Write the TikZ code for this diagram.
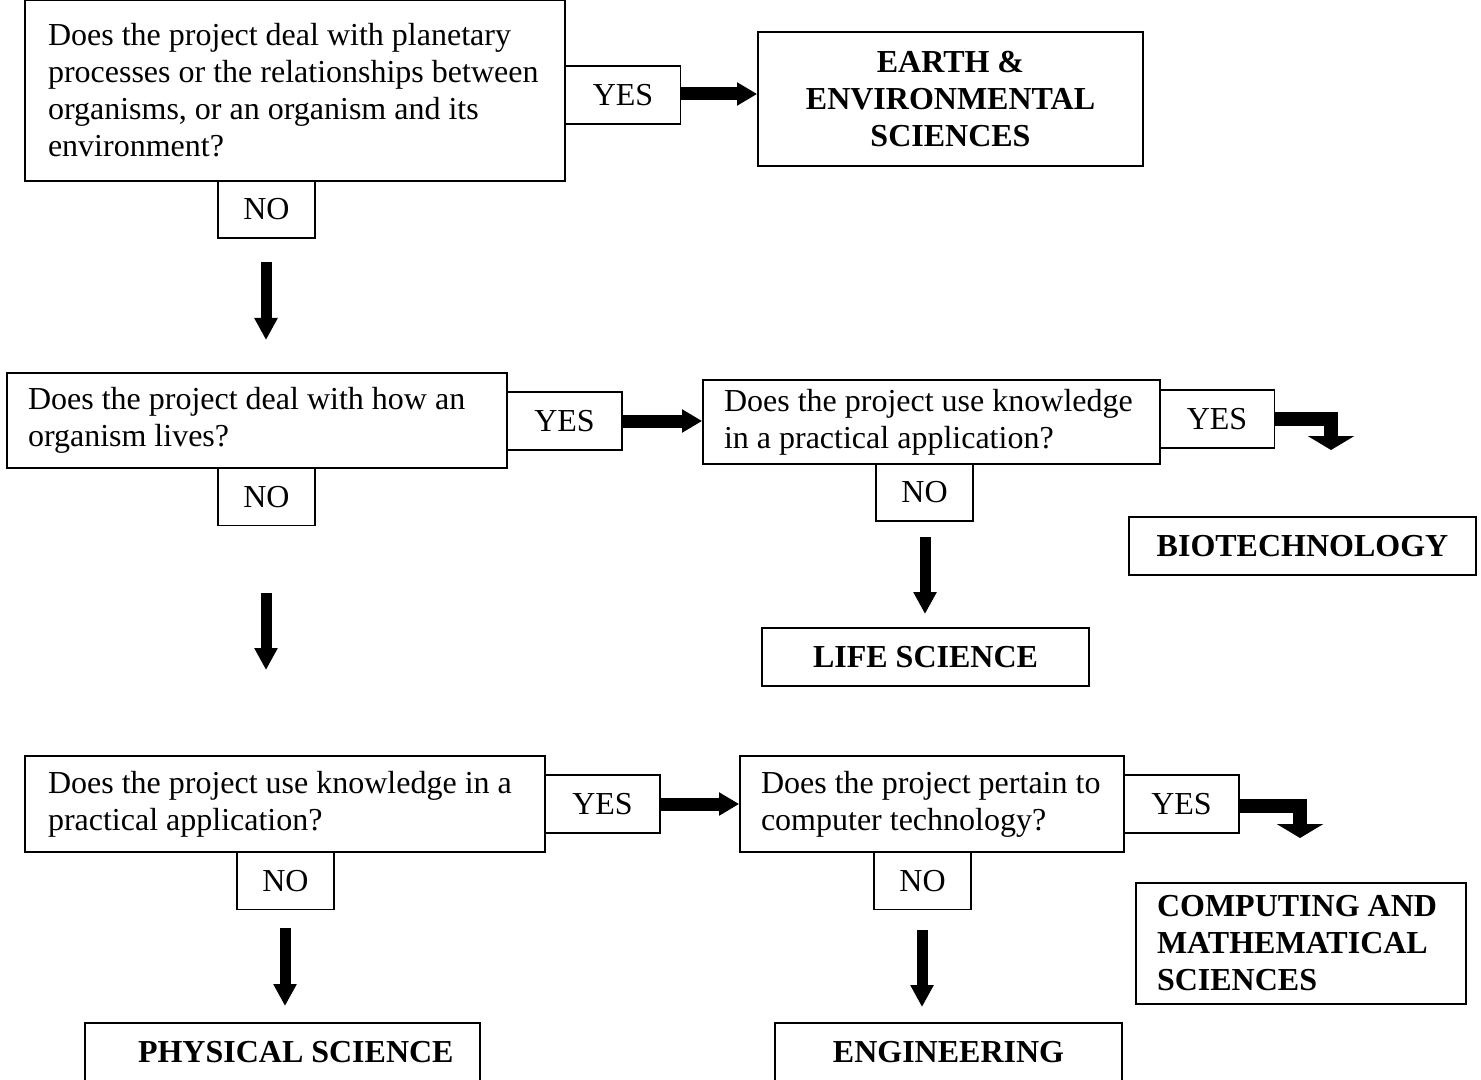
\documentclass[tikz,border=0pt]{standalone}
\usepackage{fontspec}
\setmainfont{Liberation Serif}
\usetikzlibrary{arrows.meta}
\begin{document}
\begin{tikzpicture}[x=0.5pt,y=-0.5pt,
  every node/.style={font=\fontsize{16pt}{18.5pt}\selectfont},
  qbox/.style={draw, line width=0.9pt, inner ysep=0pt, align=flush left},
  abox/.style={draw, line width=0.9pt, inner sep=0pt, minimum width=57.5pt, minimum height=29pt},
  nbox/.style={draw, line width=0.9pt, inner sep=0pt, minimum width=48.5pt, minimum height=28.5pt},
  rbox/.style={draw, line width=0.9pt, inner ysep=0pt, font=\fontsize{16pt}{18.5pt}\selectfont\bfseries},
  harrow/.style={line width=6.5pt, -{Triangle[width=11pt,length=10pt]}},
  varrow/.style={line width=5.5pt, -{Triangle[width=11pt,length=11pt]}},
  barrow/.style={line width=7pt, line join=miter, -{Triangle[width=23pt,length=7pt]}}
]
\clip (0,0) rectangle (1481,1080);
\useasboundingbox (0,0) rectangle (1481,1080);

% Row 1
\node[qbox, inner xsep=11.5pt, text width=247pt, minimum height=90.5pt] (q1) at (295,90.5)
  {\mbox{Does the project deal with planetary}\\\mbox{processes or the relationships between}\\\mbox{organisms, or an organism and its}\\\mbox{environment?}};
\node[abox] (yes1) at (623,95) {YES};
\node[rbox, align=center, minimum width=192.5pt, minimum height=67pt, inner xsep=0pt] (earth) at (950.5,99)
  {EARTH \&\\ENVIRONMENTAL\\SCIENCES};
\node[nbox] (no1) at (266.5,209.5) {NO};
\draw[harrow] (yes1.east |- 0,94) -- (earth.west |- 0,94);
\coordinate (d1s) at (266,262);
\coordinate (d1e) at (266,340);
\draw[varrow] (d1s) -- (d1e);

% Row 2
\node[qbox, inner xsep=10.5pt, text width=229pt, minimum height=47.5pt] (q2) at (257,420.5)
  {\mbox{Does the project deal with how an}\\\mbox{organism lives?}};
\node[abox] (yes2) at (564.5,421) {YES};
\node[qbox, inner xsep=10.5pt, text width=207.5pt, minimum height=42pt] (q3) at (931.5,422)
  {\mbox{Does the project use knowledge}\\\mbox{in a practical application?}};
\node[abox] (yes3) at (1217,419) {YES};
\node[nbox] (no2) at (266.5,497) {NO};
\node[nbox] (no3) at (924.5,492.5) {NO};
\node[rbox, minimum width=173.5pt, minimum height=29pt, inner xsep=0pt] (bio) at (1302.5,546) {BIOTECHNOLOGY};
\node[rbox, minimum width=163.5pt, minimum height=29pt, inner xsep=0pt] (life) at (925.5,657) {LIFE SCIENCE};
\draw[harrow] (yes2.east |- 0,421) -- (q3.west |- 0,421);
\coordinate (b3c) at (1331,418.5);
\coordinate (b3e) at (1331,450);
\draw[barrow] (yes3.east |- b3c) -- (b3c) -- (b3e);
\coordinate (d2s) at (266,593);
\coordinate (d2e) at (266,670);
\draw[varrow] (d2s) -- (d2e);
\coordinate (d3s) at (925,537);
\coordinate (d3e) at (925,614);
\draw[varrow] (d3s) -- (d3e);

% Row 3
\node[qbox, inner xsep=11.5pt, text width=237pt, minimum height=48pt] (q4) at (285,804)
  {\mbox{Does the project use knowledge in a}\\\mbox{practical application?}};
\node[abox] (yes4) at (602.5,804) {YES};
\node[qbox, inner xsep=10.5pt, text width=171pt, minimum height=48pt] (q5) at (932,804)
  {\mbox{Does the project pertain to}\\\mbox{computer technology?}};
\node[abox] (yes5) at (1181.5,804) {YES};
\node[nbox] (no4) at (285.5,881) {NO};
\node[nbox] (no5) at (922.5,881) {NO};
\node[rbox, align=flush left, inner xsep=10.5pt, text width=144pt, minimum height=60.5pt] (comp) at (1301,943.5)
  {\mbox{COMPUTING AND}\\\mbox{MATHEMATICAL}\\\mbox{SCIENCES}};
\node[rbox, align=flush left, inner xsep=26.5pt, text width=144.5pt, minimum height=29pt] (phys) at (282.5,1052) {\mbox{PHYSICAL SCIENCE}};
\node[rbox, minimum width=173.5pt, minimum height=29pt, inner xsep=0pt] (eng) at (948.5,1052) {ENGINEERING};
\draw[harrow] (yes4.east |- 0,804) -- (q5.west |- 0,804);
\coordinate (b5c) at (1300,805.5);
\coordinate (b5e) at (1300,838);
\draw[barrow] (yes5.east |- b5c) -- (b5c) -- (b5e);
\coordinate (d4s) at (285,928);
\coordinate (d4e) at (285,1006);
\draw[varrow] (d4s) -- (d4e);
\coordinate (d5s) at (922,930);
\coordinate (d5e) at (922,1007);
\draw[varrow] (d5s) -- (d5e);
\end{tikzpicture}
\end{document}
